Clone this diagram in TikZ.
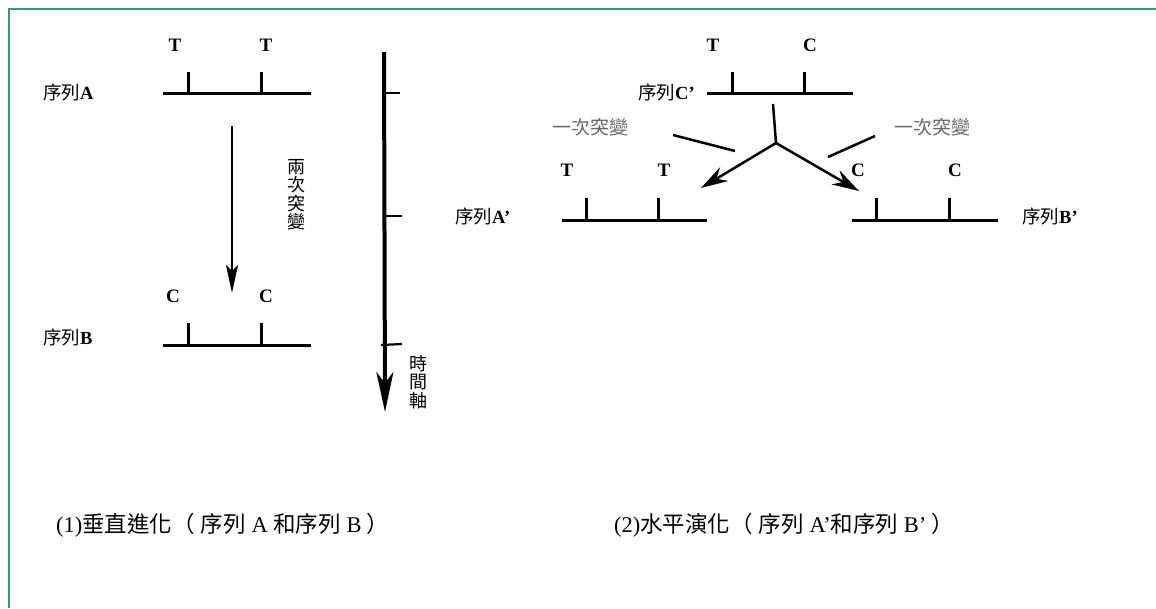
\documentclass[tikz,border=0pt]{standalone}
\usepackage{fontspec}
\setmainfont{Liberation Serif}
\newfontfamily\cjk{Noto Sans CJK TC}
\usetikzlibrary{arrows.meta}
\definecolor{framegreen}{RGB}{60,154,100}
\definecolor{mutgray}{RGB}{105,105,105}
\tikzset{
  seqline/.style={line width=3pt},
  tickline/.style={line width=3pt},
  base/.style={font=\fontsize{19}{19}\selectfont\bfseries, inner sep=0pt},
  seqlabel/.style={font=\fontsize{18.5}{18.5}\selectfont, inner sep=0pt, anchor=west},
  mutlabel/.style={font=\fontsize{19}{19}\selectfont\cjk, text=mutgray, inner sep=0pt},
  vlabel/.style={font=\fontsize{18}{18.5}\selectfont\cjk, inner sep=0pt, align=center},
  caption/.style={font=\fontsize{22.5}{22.5}\selectfont, inner sep=0pt, anchor=west},
  branch/.style={line width=2.5pt, -{Stealth[length=27pt,width=16pt,inset=9pt]}},
  mutline/.style={line width=2.5pt},
}
\begin{document}
\begin{tikzpicture}[x=1pt,y=-1pt]
\useasboundingbox (0,0) rectangle (1156,608);
% frame
\coordinate (f1) at (9,608);
\coordinate (f2) at (9,9);
\coordinate (f3) at (1156,9);
\draw[framegreen, line width=2.2pt] (f1) -- (f2) -- (f3);

% ---------- left panel ----------
\node[base] (ta1) at (175,45) {T};
\node[base] (ta2) at (266,45) {T};
\node[seqlabel] (lA) at (43,92) {{\cjk 序列}\textbf{A}};
\coordinate (sa-l) at (163,93); \coordinate (sa-r) at (311,93);
\coordinate (sa-t1) at (188,72); \coordinate (sa-b1) at (188,93);
\coordinate (sa-t2) at (261,72); \coordinate (sa-b2) at (261,93);
\draw[seqline] (sa-l) -- (sa-r);
\draw[tickline] (sa-b1) -- (sa-t1);
\draw[tickline] (sa-b2) -- (sa-t2);

\coordinate (va-s) at (232,126); \coordinate (va-e) at (232,293);
\draw[line width=2.5pt, -{Stealth[length=28pt,width=12pt,inset=6pt]}] (va-s) -- (va-e);
\node[vlabel] (two) at (296,195) {兩\\次\\突\\變};

\node[base] (cb1) at (173,296) {C};
\node[base] (cb2) at (266,296) {C};
\node[seqlabel] (lB) at (43,337) {{\cjk 序列}\textbf{B}};
\coordinate (sb-l) at (163,345); \coordinate (sb-r) at (311,345);
\coordinate (sb-t1) at (188,323); \coordinate (sb-b1) at (188,345);
\coordinate (sb-t2) at (261,323); \coordinate (sb-b2) at (261,345);
\draw[seqline] (sb-l) -- (sb-r);
\draw[tickline] (sb-b1) -- (sb-t1);
\draw[tickline] (sb-b2) -- (sb-t2);

% time axis
\coordinate (ax-s) at (384,52); \coordinate (ax-e) at (385,412);
\draw[line width=4pt, -{Stealth[length=40pt,width=17pt,inset=11pt]}] (ax-s) -- (ax-e);
\coordinate (tk1a) at (384,93); \coordinate (tk1b) at (400,93);
\coordinate (tk2a) at (384,216); \coordinate (tk2b) at (402,216);
\coordinate (tk3a) at (381,345); \coordinate (tk3b) at (402,344);
\draw[line width=2.2pt] (tk1a) -- (tk1b);
\draw[line width=2.2pt] (tk2a) -- (tk2b);
\draw[line width=2.2pt] (tk3a) -- (tk3b);
\node[vlabel] (time) at (418,382) {時\\間\\軸};

% ---------- right panel ----------
\node[base] (tc1) at (713,45) {T};
\node[base] (tc2) at (810,45) {C};
\node[seqlabel] (lC) at (638,92) {{\cjk 序列}\textbf{C’}};
\coordinate (sc-l) at (707,93); \coordinate (sc-r) at (853,93);
\coordinate (sc-t1) at (732,72); \coordinate (sc-b1) at (732,93);
\coordinate (sc-t2) at (804,72); \coordinate (sc-b2) at (804,93);
\draw[seqline] (sc-l) -- (sc-r);
\draw[tickline] (sc-b1) -- (sc-t1);
\draw[tickline] (sc-b2) -- (sc-t2);

\coordinate (y-top) at (773,104);
\coordinate (y-mid) at (776,143);
\coordinate (y-a) at (701,188);
\coordinate (y-b) at (859,191);
\draw[line width=2.5pt] (y-top) -- (y-mid);
\draw[branch] (y-mid) -- (y-a);
\draw[branch] (y-mid) -- (y-b);

\node[mutlabel] (m1) at (590,127) {一次突變};
\node[mutlabel] (m2) at (932,127) {一次突變};
\coordinate (ml-a) at (673,135); \coordinate (ml-b) at (735,151);
\coordinate (mr-a) at (875,136); \coordinate (mr-b) at (828,157);
\draw[mutline] (ml-a) -- (ml-b);
\draw[mutline] (mr-a) -- (mr-b);

\node[base] (tA1) at (567,170) {T};
\node[base] (tA2) at (664,170) {T};
\node[base] (cB1) at (858,170) {C};
\node[base] (cB2) at (955,170) {C};

\node[seqlabel] (lA2) at (455,216) {{\cjk 序列}\textbf{A’}};
\coordinate (sa2-l) at (562,220); \coordinate (sa2-r) at (707,220);
\coordinate (sa2-t1) at (586,198); \coordinate (sa2-b1) at (586,220);
\coordinate (sa2-t2) at (658,198); \coordinate (sa2-b2) at (658,220);
\draw[seqline] (sa2-l) -- (sa2-r);
\draw[tickline] (sa2-b1) -- (sa2-t1);
\draw[tickline] (sa2-b2) -- (sa2-t2);

\node[seqlabel] (lB2) at (1022,216) {{\cjk 序列}\textbf{B’}};
\coordinate (sb2-l) at (852,220); \coordinate (sb2-r) at (998,220);
\coordinate (sb2-t1) at (876,198); \coordinate (sb2-b1) at (876,220);
\coordinate (sb2-t2) at (949,198); \coordinate (sb2-b2) at (949,220);
\draw[seqline] (sb2-l) -- (sb2-r);
\draw[tickline] (sb2-b1) -- (sb2-t1);
\draw[tickline] (sb2-b2) -- (sb2-t2);

% captions
\node[caption] (cap1) at (56,525) {(1){\cjk 垂直進化（}\hspace{6pt}{\cjk 序列}\ A\ {\cjk 和序列}\ B\hspace{5pt}{\cjk ）}};
\node[caption] (cap2) at (614,525) {(2){\cjk 水平演化（}\hspace{6pt}{\cjk 序列}\ A’{\cjk 和序列}\ B’\hspace{5pt}{\cjk ）}};
\end{tikzpicture}
\end{document}
